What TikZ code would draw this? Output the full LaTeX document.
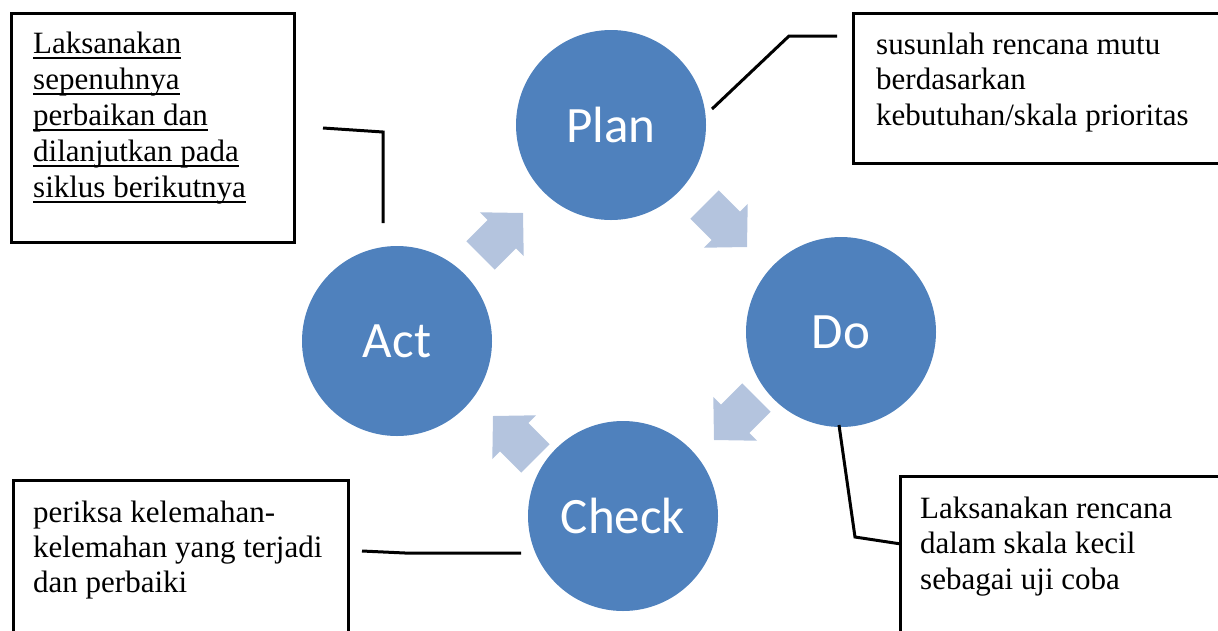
\documentclass[tikz,border=0pt]{standalone}
\usepackage{fontspec}
\setmainfont{Liberation Serif}
\newfontfamily\circfont{Carlito}
\definecolor{pdcablue}{RGB}{79,129,189}
\definecolor{arrowblue}{RGB}{180,196,222}
\newcommand{\myul}[1]{\leavevmode\setbox0\hbox{#1}\rlap{\rule[-6pt]{\wd0}{2pt}}\box0}
\begin{document}
\begin{tikzpicture}[x=1pt,y=-1pt,
  circ/.style={circle, fill=pdcablue, minimum size=190pt, inner sep=0pt, text=white,
    font=\circfont\fontsize{51}{61}\selectfont},
  boxframe/.style={rectangle, draw=black, line width=3pt, inner sep=0pt},
  boxtext/.style={anchor=base west, inner sep=0pt},
  callout/.style={draw=black, line width=3pt},
  blockarrow/.style={fill=arrowblue}]
\useasboundingbox (0,0) rectangle (1218,630);
\clip (0,0) rectangle (1218,630);

% circles
\node[circ] (plan)  at (611,125) {Plan};
\node[circ] (do)    at (841,332) {Do};
\node[circ] (check) at (623,516) {Check};
\node[circ] (act)   at (397,341) {Act};

% block arrows
\newcommand{\blockarrowshape}{(0,0) -- (-30,-31) -- (-30,-20) -- (-60,-20) -- (-60,20) -- (-30,20) -- (-30,31) -- cycle}
\fill[blockarrow, shift={(523,213)}, rotate=45] \blockarrowshape;
\fill[blockarrow, shift={(747,247)}, rotate=-45] \blockarrowshape;
\fill[blockarrow, shift={(714,440)}, rotate=-135] \blockarrowshape;
\fill[blockarrow, shift={(493,416)}, rotate=135] \blockarrowshape;

% boxes
\node[boxframe, minimum width=283pt, minimum height=229.5pt] (actbox) at (153,127.75) {};
\node[boxframe, minimum width=386pt, minimum height=150pt] (planbox) at (1046.5,88.5) {};
\node[boxframe, minimum width=335.5pt, minimum height=170pt] (checkbox) at (180.75,565) {};
\node[boxframe, minimum width=340pt, minimum height=173.5pt] (dobox) at (1070,563.25) {};

% texts
\node[boxtext] (acttext) at (33,53) {\begin{minipage}[t]{270pt}\fontsize{31}{36}\selectfont\raggedright
\myul{Laksanakan}\\\myul{sepenuhnya}\\\myul{perbaikan dan}\\\myul{dilanjutkan pada}\\\myul{siklus berikutnya}\end{minipage}};
\node[boxtext] (plantext) at (876,54) {\begin{minipage}[t]{340pt}\fontsize{31}{35.5}\selectfont\raggedright
susunlah rencana mutu\\berdasarkan\\kebutuhan/skala prioritas\end{minipage}};
\node[boxtext] (checktext) at (33,522) {\begin{minipage}[t]{320pt}\fontsize{31}{35}\selectfont\raggedright
periksa kelemahan-\\kelemahan yang terjadi\\dan perbaiki\end{minipage}};
\node[boxtext] (dotext) at (920,518) {\begin{minipage}[t]{290pt}\fontsize{31}{35.5}\selectfont\raggedright
Laksanakan rencana\\dalam skala kecil\\sebagai uji coba\end{minipage}};

% callout lines
\coordinate (pa) at (712,109); \coordinate (pb) at (789,36); \coordinate (pc) at (837,36);
\coordinate (aa) at (383,223); \coordinate (ab) at (383,132); \coordinate (ac) at (323,128);
\coordinate (da) at (839,425); \coordinate (db) at (855,537); \coordinate (dc) at (901,544);
\coordinate (ca) at (521,553); \coordinate (cb) at (405,553); \coordinate (cc) at (362,551);
\draw[callout] (pa) -- (pb) -- (pc);
\draw[callout] (aa) -- (ab) -- (ac);
\draw[callout] (da) -- (db) -- (dc);
\draw[callout] (ca) -- (cb) -- (cc);
\end{tikzpicture}
\end{document}
